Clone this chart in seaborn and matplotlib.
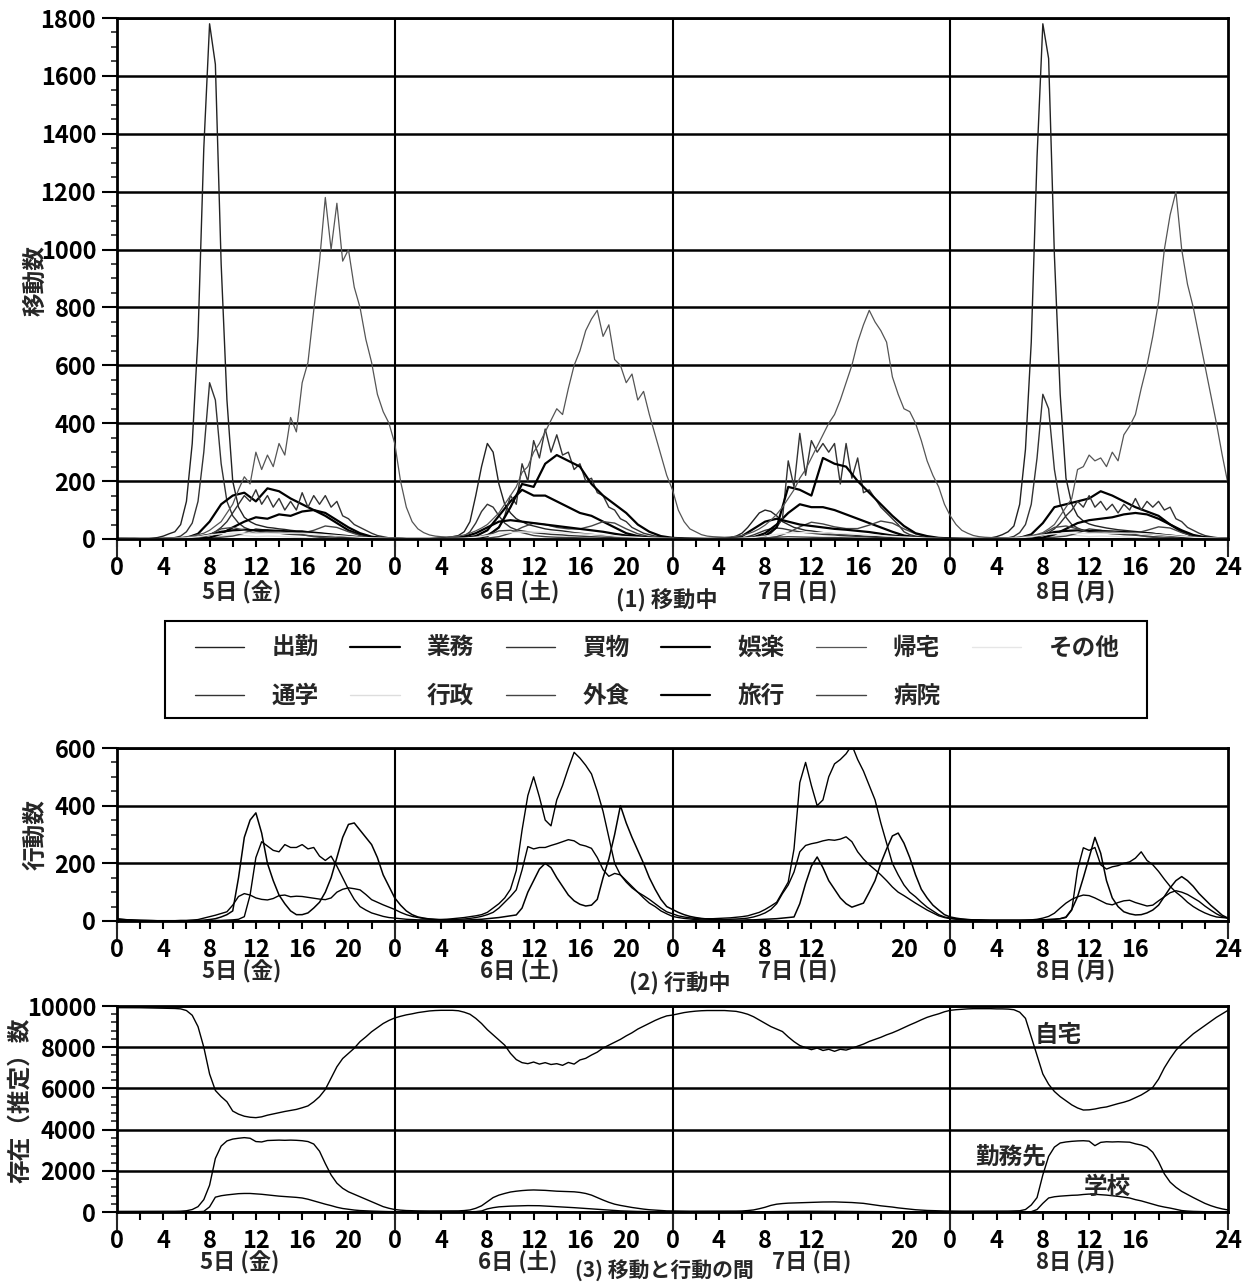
import matplotlib
matplotlib.use("Agg")
import matplotlib.pyplot as plt
import matplotlib.transforms as mtransforms
from matplotlib.patches import Rectangle
from matplotlib.ticker import FixedLocator, MultipleLocator
import numpy as np
import seaborn as sns

sns.set_style("ticks")
plt.rcParams["font.family"] = ["Noto Sans CJK JP", "DejaVu Sans"]
plt.rcParams["font.weight"] = "bold"

# time axis: 4 days (5th Fri .. 8th Mon), hours since 0:00 of the 5th
HALF_HOURS = np.arange(0, 96.5, 0.5)
HOURS = np.arange(0, 97, 1)
DAY_NAMES = ["5日 (金)", "6日 (土)", "7日 (日)", "8日 (月)"]

# ---------------------------------------------------------------------------
# (1) 移動中 -- trips in progress, per purpose
# ---------------------------------------------------------------------------
SHUKKIN = [  # 出勤, half-hourly
    0, 0, 0, 0, 0, 0, 2, 5, 10, 18, 25, 50,
    130, 330, 700, 1350, 1780, 1640, 950, 480, 200, 110, 75, 60,
    50, 45, 40, 38, 35, 33, 30, 28, 28, 25, 22, 20,
    18, 15, 12, 10, 8, 6, 5, 4, 3, 2, 2, 1,
    1, 1, 0, 0, 0, 0, 1, 2, 3, 5, 8, 12,
    25, 60, 150, 250, 330, 300, 190, 120, 90, 70, 60, 50,
    45, 40, 35, 32, 30, 28, 25, 22, 20, 18, 16, 14,
    12, 10, 8, 7, 6, 5, 4, 3, 2, 2, 1, 1,
    1, 0, 0, 0, 0, 0, 0, 1, 2, 3, 5, 10,
    20, 40, 65, 90, 100, 95, 80, 60, 50, 40, 35, 30,
    28, 25, 22, 20, 18, 16, 15, 14, 12, 10, 9, 8,
    7, 6, 5, 4, 3, 3, 2, 2, 1, 1, 1, 0,
    0, 0, 0, 0, 0, 0, 2, 4, 8, 15, 25, 45,
    120, 310, 680, 1320, 1780, 1660, 980, 500, 210, 120, 80, 62,
    52, 46, 42, 38, 35, 32, 30, 28, 26, 24, 22, 20,
    17, 14, 12, 10, 8, 6, 5, 4, 3, 2, 2, 1,
    1,
]
TSUGAKU = [  # 通学, half-hourly
    0, 0, 0, 0, 0, 0, 0, 0, 1, 2, 5, 10,
    25, 55, 130, 300, 540, 480, 260, 130, 80, 55, 40, 32,
    28, 26, 24, 22, 20, 18, 16, 15, 14, 12, 10, 9,
    8, 7, 6, 5, 4, 3, 2, 2, 1, 1, 0, 0,
    0, 0, 0, 0, 0, 0, 0, 0, 0, 1, 2, 4,
    10, 25, 55, 95, 120, 110, 80, 55, 40, 32, 28, 25,
    22, 20, 18, 16, 15, 14, 12, 11, 10, 9, 8, 7,
    6, 5, 4, 3, 2, 2, 1, 1, 1, 0, 0, 0,
    0, 0, 0, 0, 0, 0, 0, 0, 0, 0, 1, 2,
    4, 8, 14, 22, 30, 35, 38, 36, 32, 28, 25, 22,
    20, 18, 16, 15, 14, 12, 11, 10, 9, 8, 7, 6,
    5, 4, 3, 3, 2, 2, 1, 1, 1, 0, 0, 0,
    0, 0, 0, 0, 0, 0, 0, 0, 1, 2, 4, 9,
    22, 50, 120, 280, 500, 450, 240, 120, 75, 50, 38, 30,
    26, 24, 22, 20, 18, 17, 15, 14, 13, 11, 10, 8,
    7, 6, 5, 4, 3, 3, 2, 1, 1, 1, 0, 0,
    0,
]
KITAKU = [  # 帰宅, half-hourly
    5, 4, 3, 3, 2, 2, 2, 2, 3, 3, 4, 5,
    8, 10, 15, 20, 30, 45, 60, 90, 120, 170, 215, 190,
    300, 240, 290, 250, 330, 290, 420, 370, 540, 610, 790, 960,
    1180, 1000, 1160, 960, 1000, 870, 800, 690, 610, 500, 440, 400,
    330, 200, 110, 60, 35, 22, 14, 10, 8, 7, 8, 10,
    14, 20, 28, 38, 50, 70, 90, 120, 150, 180, 230, 250,
    300, 330, 370, 410, 450, 430, 520, 600, 650, 720, 760, 790,
    700, 740, 620, 600, 540, 570, 480, 510, 430, 360, 290, 220,
    170, 100, 60, 35, 25, 15, 10, 8, 7, 6, 7, 9,
    12, 18, 25, 35, 48, 65, 85, 110, 140, 170, 210, 240,
    280, 320, 360, 400, 430, 480, 540, 600, 680, 740, 790, 750,
    720, 680, 560, 500, 450, 440, 400, 340, 270, 220, 180, 120,
    80, 50, 30, 20, 12, 8, 6, 5, 4, 4, 4, 5,
    7, 9, 12, 16, 22, 35, 50, 80, 110, 140, 240, 250,
    290, 270, 280, 250, 300, 270, 360, 390, 430, 520, 600, 700,
    820, 1000, 1120, 1200, 1000, 880, 800, 700, 600, 500, 400, 290,
    190,
]
KAIMONO = [  # 買物, half-hourly
    2, 1, 1, 1, 0, 0, 0, 0, 0, 0, 1, 1,
    2, 3, 5, 8, 15, 25, 40, 60, 90, 120, 150, 130,
    170, 120, 150, 110, 140, 100, 130, 100, 160, 110, 150, 120,
    150, 110, 130, 80, 70, 50, 40, 30, 20, 12, 8, 4,
    3, 2, 1, 1, 0, 0, 0, 0, 0, 0, 1, 1,
    2, 4, 6, 10, 15, 25, 40, 80, 150, 120, 260, 200,
    340, 280, 380, 300, 360, 290, 300, 240, 260, 200, 210, 160,
    150, 110, 100, 70, 60, 40, 30, 20, 15, 10, 8, 5,
    3, 2, 1, 1, 0, 0, 0, 0, 0, 0, 1, 1,
    2, 3, 5, 8, 12, 20, 40, 70, 270, 180, 365, 220,
    340, 300, 330, 300, 330, 190, 330, 210, 280, 160, 170, 140,
    110, 90, 70, 50, 25, 15, 10, 8, 5, 4, 3, 2,
    1, 1, 0, 0, 0, 0, 0, 0, 0, 0, 1, 1,
    2, 3, 5, 8, 14, 22, 35, 55, 80, 100, 130, 110,
    150, 110, 130, 100, 120, 90, 120, 100, 140, 100, 130, 110,
    130, 100, 110, 70, 60, 40, 30, 20, 12, 8, 5, 3,
    2,
]
GYOMU = [  # 業務, hourly
    0, 0, 0, 0, 0, 1, 4, 18, 60, 120, 150, 160,
    130, 175, 165, 140, 120, 100, 80, 55, 30, 15, 6, 3,
    1, 0, 0, 0, 0, 1, 3, 10, 30, 80, 130, 170,
    150, 150, 130, 110, 90, 80, 60, 40, 20, 10, 5, 2,
    1, 0, 0, 0, 0, 0, 2, 6, 20, 50, 90, 120,
    110, 110, 100, 85, 70, 55, 40, 25, 12, 6, 3, 1,
    0, 0, 0, 0, 0, 1, 4, 16, 55, 110, 120, 130,
    140, 165, 150, 130, 110, 95, 80, 50, 25, 10, 5, 2,
    1,
]
GORAKU = [  # 娯楽, hourly
    0, 0, 0, 0, 0, 0, 1, 2, 5, 18, 40, 60,
    75, 70, 85, 80, 95, 100, 90, 65, 40, 20, 8, 3,
    1, 0, 0, 0, 0, 0, 1, 3, 10, 40, 110, 190,
    180, 260, 290, 270, 250, 190, 150, 120, 90, 50, 25, 10,
    4, 2, 1, 0, 0, 0, 1, 3, 10, 40, 180, 170,
    150, 280, 260, 250, 200, 160, 120, 80, 45, 20, 10, 4,
    2, 1, 0, 0, 0, 0, 1, 2, 5, 16, 35, 55,
    65, 70, 75, 85, 90, 85, 70, 50, 30, 14, 6, 2,
    1,
]
GAISHOKU = [  # 外食, hourly
    0, 0, 0, 0, 0, 0, 0, 1, 3, 6, 10, 20,
    35, 30, 20, 18, 20, 30, 45, 40, 25, 12, 5, 2,
    1, 0, 0, 0, 0, 0, 0, 1, 3, 8, 20, 40,
    55, 50, 40, 35, 35, 45, 60, 55, 35, 18, 8, 3,
    1, 0, 0, 0, 0, 0, 0, 1, 3, 8, 22, 42,
    58, 52, 42, 36, 36, 48, 62, 55, 35, 18, 8, 3,
    1, 0, 0, 0, 0, 0, 0, 1, 3, 6, 10, 20,
    35, 30, 20, 18, 20, 30, 42, 38, 22, 10, 4, 2,
    1,
]
RYOKO = [  # 旅行, hourly
    0, 0, 0, 0, 0, 1, 3, 8, 15, 25, 30, 32,
    30, 30, 28, 26, 24, 22, 18, 14, 10, 6, 3, 1,
    0, 0, 0, 0, 1, 3, 8, 20, 40, 60, 65, 60,
    55, 50, 45, 40, 35, 30, 25, 18, 12, 8, 4, 2,
    1, 0, 0, 0, 1, 3, 10, 35, 60, 70, 60, 50,
    45, 40, 35, 32, 28, 24, 18, 12, 8, 5, 3, 1,
    0, 0, 0, 0, 0, 1, 3, 8, 15, 24, 28, 30,
    28, 28, 26, 24, 22, 20, 16, 12, 8, 5, 2, 1,
    0,
]
BYOIN = [  # 病院, hourly
    0, 0, 0, 0, 0, 0, 1, 4, 15, 35, 40, 30,
    20, 25, 25, 20, 15, 8, 4, 2, 1, 0, 0, 0,
    0, 0, 0, 0, 0, 0, 1, 3, 12, 28, 30, 22,
    12, 8, 6, 5, 4, 3, 2, 1, 0, 0, 0, 0,
    0, 0, 0, 0, 0, 0, 0, 1, 3, 6, 8, 7,
    6, 5, 5, 4, 3, 2, 1, 1, 0, 0, 0, 0,
    0, 0, 0, 0, 0, 0, 1, 5, 18, 40, 45, 35,
    22, 26, 26, 20, 15, 8, 4, 2, 1, 0, 0, 0,
    0,
]
GYOSEI = [  # 行政, hourly
    0, 0, 0, 0, 0, 0, 0, 1, 4, 10, 14, 12,
    8, 10, 9, 7, 4, 2, 1, 0, 0, 0, 0, 0,
    0, 0, 0, 0, 0, 0, 0, 0, 1, 2, 3, 3,
    2, 2, 2, 1, 1, 0, 0, 0, 0, 0, 0, 0,
    0, 0, 0, 0, 0, 0, 0, 0, 0, 1, 1, 1,
    1, 1, 1, 1, 0, 0, 0, 0, 0, 0, 0, 0,
    0, 0, 0, 0, 0, 0, 0, 1, 4, 11, 15, 12,
    8, 10, 9, 7, 4, 2, 1, 0, 0, 0, 0, 0,
    0,
]
SONOTA = [  # その他, hourly
    2, 1, 1, 1, 1, 2, 4, 8, 14, 18, 20, 20,
    20, 20, 20, 20, 20, 18, 15, 12, 9, 6, 4, 3,
    2, 1, 1, 1, 1, 2, 3, 6, 12, 18, 22, 24,
    24, 24, 22, 20, 18, 16, 14, 10, 8, 6, 4, 3,
    2, 1, 1, 1, 1, 1, 3, 5, 10, 16, 20, 22,
    22, 22, 20, 18, 16, 14, 12, 9, 7, 5, 3, 2,
    1, 1, 1, 1, 1, 2, 4, 8, 14, 18, 20, 20,
    20, 20, 20, 20, 20, 18, 15, 12, 9, 6, 4, 3,
    2,
]

# ---------------------------------------------------------------------------
# (2) 行動中 -- activities in progress (three series), half-hourly
# ---------------------------------------------------------------------------
ACT_MEAL = [
    5, 4, 3, 2, 2, 1, 1, 1, 1, 1, 1, 1,
    1, 2, 2, 3, 5, 8, 14, 22, 35, 150, 290, 350,
    375, 305, 200, 140, 90, 60, 35, 22, 22, 28, 45, 65,
    100, 150, 220, 290, 335, 340, 315, 290, 265, 220, 160, 120,
    80, 55, 35, 22, 14, 10, 7, 5, 4, 3, 3, 3,
    3, 4, 5, 6, 8, 10, 12, 15, 18, 21, 45, 100,
    140, 180, 200, 185, 150, 120, 90, 70, 58, 52, 55, 75,
    150, 215, 300, 400, 340, 290, 245, 200, 150, 110, 75, 50,
    40, 30, 22, 16, 12, 9, 7, 5, 4, 3, 3, 3,
    3, 4, 4, 5, 6, 7, 8, 10, 12, 14, 60, 130,
    190, 222, 185, 140, 110, 80, 60, 48, 55, 62, 100, 140,
    200, 250, 295, 305, 270, 220, 160, 110, 80, 55, 38, 22,
    14, 10, 7, 5, 4, 3, 3, 2, 2, 2, 2, 2,
    2, 2, 3, 3, 4, 5, 6, 8, 14, 40, 84, 150,
    220, 290, 235, 140, 80, 50, 32, 25, 21, 22, 28, 38,
    55, 85, 115, 140, 154, 140, 120, 95, 75, 55, 38, 20,
    10,
]
ACT_MAIN = [
    8, 6, 4, 3, 2, 2, 1, 1, 1, 1, 1, 1,
    1, 1, 1, 1, 1, 2, 2, 3, 4, 6, 15, 90,
    220, 275, 260, 245, 240, 265, 255, 255, 265, 250, 255, 225,
    210, 225, 190, 150, 110, 75, 50, 38, 28, 22, 16, 12,
    10, 8, 6, 5, 4, 4, 4, 4, 5, 6, 8, 10,
    12, 15, 18, 22, 30, 45, 60, 80, 110, 175, 315, 435,
    500, 430, 350, 330, 420, 470, 530, 585, 565, 540, 510, 450,
    380, 290, 200, 160, 135, 115, 100, 88, 75, 60, 45, 32,
    25, 18, 14, 11, 9, 8, 8, 8, 9, 10, 11, 13,
    15, 18, 24, 30, 40, 52, 65, 100, 135, 250, 480, 550,
    470, 400, 420, 500, 545, 560, 580, 610, 560, 520, 470, 420,
    340, 270, 200, 160, 125, 100, 84, 65, 48, 35, 22, 14,
    10, 8, 6, 5, 4, 4, 3, 3, 3, 3, 3, 3,
    3, 3, 3, 4, 4, 5, 6, 8, 12, 38, 178, 254,
    245, 255, 195, 180, 188, 192, 200, 205, 218, 240, 210, 195,
    172, 145, 120, 100, 84, 65, 50, 38, 28, 20, 14, 12,
    10,
]
ACT_OTHER = [
    6, 5, 4, 3, 2, 2, 2, 1, 1, 1, 1, 2,
    2, 3, 5, 10, 15, 20, 26, 32, 55, 85, 95, 90,
    80, 75, 73, 78, 88, 90, 84, 86, 85, 82, 79, 76,
    74, 80, 100, 110, 115, 112, 108, 92, 74, 65, 56, 48,
    40, 30, 22, 16, 12, 9, 7, 6, 5, 5, 5, 6,
    7, 9, 12, 16, 22, 30, 45, 65, 85, 108, 177, 258,
    250, 255, 255, 262, 268, 275, 282, 278, 265, 260, 252, 220,
    178, 155, 165, 160, 140, 120, 100, 80, 62, 50, 35, 25,
    16, 12, 9, 7, 5, 4, 4, 4, 4, 5, 6, 7,
    8, 10, 14, 20, 28, 40, 60, 95, 125, 170, 240, 262,
    268, 272, 278, 282, 280, 284, 292, 275, 240, 215, 195, 178,
    160, 140, 118, 100, 88, 75, 62, 50, 38, 28, 18, 12,
    8, 6, 5, 4, 3, 3, 2, 2, 2, 2, 2, 2,
    2, 3, 4, 6, 10, 16, 27, 45, 62, 75, 84, 90,
    88, 80, 70, 60, 56, 64, 70, 72, 64, 58, 52, 55,
    70, 84, 98, 105, 100, 92, 80, 68, 52, 38, 25, 15,
    10,
]

# ---------------------------------------------------------------------------
# (3) 移動と行動の間 -- estimated presence, half-hourly
# ---------------------------------------------------------------------------
HOME = [
    9920, 9920, 9920, 9915, 9915, 9910, 9910, 9905, 9900, 9890, 9880, 9860,
    9780, 9550, 9000, 8000, 6700, 5900, 5600, 5350, 4900, 4750, 4650, 4600,
    4580, 4620, 4700, 4760, 4820, 4880, 4930, 4980, 5060, 5150, 5350, 5600,
    5950, 6500, 7050, 7450, 7700, 7950, 8270, 8500, 8750, 8950, 9150, 9300,
    9420, 9500, 9570, 9620, 9680, 9720, 9760, 9780, 9790, 9790, 9790, 9770,
    9700, 9600, 9400, 9150, 8850, 8600, 8350, 8100, 7700, 7400, 7250, 7200,
    7280, 7180, 7250, 7160, 7200, 7120, 7260, 7180, 7380, 7460, 7620, 7760,
    7960, 8100, 8240, 8380, 8550, 8700, 8880, 9020, 9160, 9300, 9420, 9520,
    9560, 9620, 9680, 9720, 9750, 9770, 9780, 9780, 9780, 9780, 9760, 9740,
    9680, 9600, 9480, 9320, 9160, 9000, 8880, 8760, 8500, 8270, 8080, 7980,
    7880, 7960, 7840, 7900, 7800, 7900, 7860, 7950, 8050, 8150, 8280, 8380,
    8480, 8600, 8700, 8820, 8950, 9080, 9200, 9330, 9450, 9540, 9620, 9720,
    9790, 9820, 9840, 9860, 9870, 9870, 9870, 9870, 9860, 9860, 9850, 9820,
    9700, 9400, 8500, 7600, 6700, 6200, 5850, 5600, 5400, 5200, 5050, 4950,
    4960, 5000, 5060, 5100, 5180, 5260, 5330, 5420, 5550, 5680, 5850, 6050,
    6450, 7000, 7450, 7850, 8150, 8400, 8650, 8850, 9050, 9250, 9450, 9620,
    9790,
]
WORKPLACE = [
    30, 30, 30, 30, 30, 30, 30, 30, 30, 30, 35, 40,
    60, 120, 260, 600, 1300, 2600, 3200, 3450, 3540, 3580, 3610, 3580,
    3420, 3400, 3470, 3480, 3490, 3480, 3490, 3480, 3460, 3420, 3300, 2950,
    2350, 1800, 1400, 1150, 980, 860, 740, 620, 500, 380, 260, 180,
    120, 90, 70, 60, 55, 50, 50, 50, 50, 50, 50, 55,
    70, 100, 180, 300, 500, 700, 820, 900, 970, 1010, 1040, 1060,
    1070, 1060, 1050, 1030, 1010, 1000, 990, 980, 950, 900, 820, 700,
    580, 470, 380, 320, 270, 220, 180, 140, 110, 90, 70, 55,
    50, 45, 40, 40, 40, 40, 40, 40, 40, 40, 40, 45,
    50, 70, 100, 160, 230, 320, 380, 410, 430, 440, 450, 460,
    470, 480, 485, 490, 490, 480, 470, 460, 440, 420, 380, 340,
    300, 270, 240, 200, 170, 140, 110, 90, 75, 65, 55, 50,
    45, 40, 40, 40, 40, 40, 40, 40, 40, 40, 45, 50,
    60, 120, 340, 700, 1800, 2700, 3150, 3350, 3400, 3430, 3450, 3460,
    3440, 3220, 3380, 3410, 3400, 3410, 3400, 3390, 3310, 3250, 3150, 2900,
    2440, 1850, 1450, 1200, 1000, 850, 700, 560, 420, 310, 220, 150,
    100,
]
SCHOOL = [
    10, 10, 10, 10, 10, 10, 10, 10, 10, 10, 10, 10,
    10, 10, 15, 30, 250, 720, 790, 830, 860, 890, 900, 900,
    880, 860, 830, 800, 770, 750, 730, 710, 680, 620, 540, 460,
    380, 310, 230, 170, 130, 95, 70, 55, 45, 35, 25, 20,
    15, 12, 10, 10, 10, 10, 10, 10, 10, 10, 10, 10,
    10, 12, 20, 50, 150, 210, 250, 270, 285, 295, 305, 310,
    310, 305, 290, 275, 260, 245, 225, 210, 190, 170, 150, 125,
    105, 85, 70, 55, 45, 35, 28, 22, 18, 15, 12, 10,
    10, 10, 10, 10, 10, 10, 10, 10, 10, 10, 10, 10,
    10, 10, 10, 12, 15, 20, 25, 30, 32, 34, 35, 36,
    36, 36, 35, 34, 32, 30, 28, 26, 24, 22, 20, 18,
    16, 14, 12, 11, 10, 10, 10, 10, 10, 10, 10, 10,
    10, 10, 10, 10, 10, 10, 10, 10, 10, 10, 10, 10,
    10, 10, 15, 120, 420, 680, 740, 770, 790, 810, 820, 850,
    870, 860, 840, 820, 790, 760, 720, 680, 600, 540, 460, 380,
    300, 240, 190, 130, 70, 45, 30, 22, 16, 12, 10, 8,
    8,
]

# (label, hours, values, colour, linewidth) for panel 1, in legend order
TRIP_SERIES = [
    ("出勤", HALF_HOURS, SHUKKIN, "#222222", 1.0),
    ("通学", HALF_HOURS, TSUGAKU, "#333333", 1.0),
    ("業務", HOURS, GYOMU, "black", 1.6),
    ("行政", HOURS, GYOSEI, "#dddddd", 1.0),
    ("買物", HALF_HOURS, KAIMONO, "#333333", 1.0),
    ("外食", HOURS, GAISHOKU, "#444444", 1.0),
    ("娯楽", HOURS, GORAKU, "black", 1.6),
    ("旅行", HOURS, RYOKO, "black", 1.6),
    ("帰宅", HALF_HOURS, KITAKU, "#555555", 0.9),
    ("病院", HOURS, BYOIN, "#444444", 1.0),
    ("その他", HOURS, SONOTA, "#e6e6e6", 1.0),
]

W, H = 1245, 1283
FS = 17


def fx(px):
    return px / W


def fy(py):
    return 1 - py / H


def tick_labels(skip=()):
    labels = []
    for p in range(0, 97, 2):
        h = p % 24
        if p == 96:
            labels.append("24")
        elif h % 4 == 0 and p not in skip:
            labels.append(str(h))
        else:
            labels.append("")
    return labels


def style_axis(ax, ymax, ymajor, yminor, skip=()):
    ax.set_xlim(0, 96)
    ax.set_ylim(0, ymax)
    ax.set_xlabel("")
    ax.set_ylabel("")
    ax.xaxis.set_major_locator(FixedLocator(list(range(0, 97, 2))))
    ax.set_xticklabels(tick_labels(skip))
    ax.xaxis.set_minor_locator(FixedLocator([0, 24, 48, 72, 96]))
    ax.xaxis.remove_overlapping_locs = False
    ax.tick_params(axis="x", which="major", length=6, width=1.5, pad=6,
                   labelsize=FS, colors="black")
    ax.tick_params(axis="x", which="minor", length=13, width=1.5)
    ax.yaxis.set_major_locator(MultipleLocator(ymajor))
    ax.yaxis.set_minor_locator(MultipleLocator(yminor))
    ax.tick_params(axis="y", which="major", length=11, width=1.5, pad=4,
                   labelsize=FS, colors="black")
    ax.tick_params(axis="y", which="minor", length=4, width=1.2)
    ax.grid(axis="y", which="major", color="black", linewidth=1.8)
    for d in (24, 48, 72):
        ax.axvline(d, color="black", linewidth=1.5, zorder=1.5)
    for s in ax.spines.values():
        s.set_visible(True)
        s.set_linewidth(2)
        s.set_color("black")


def day_labels(fig, ax, y_px, caption, cap_x_px, cap_y_px,
               offsets=(10.8, 10.8, 10.8, 10.8), cap_size=FS - 1):
    trans = mtransforms.blended_transform_factory(ax.transData, fig.transFigure)
    for i, (name, off) in enumerate(zip(DAY_NAMES, offsets)):
        ax.text(i * 24 + off, fy(y_px), name, transform=trans, ha="center",
                va="center", fontsize=FS - 1)
    fig.text(fx(cap_x_px), fy(cap_y_px), caption, ha="center", va="center",
             fontsize=cap_size)


fig = plt.figure(figsize=(W / 100, H / 100), dpi=100)
ax1 = fig.add_axes([fx(117), fy(539), fx(1228) - fx(117), fy(18) - fy(539)])
ax2 = fig.add_axes([fx(117), fy(921), fx(1228) - fx(117), fy(748) - fy(921)])
ax3 = fig.add_axes([fx(117), fy(1212), fx(1228) - fx(117), fy(1006) - fy(1212)])

# panel 1
for label, hours, values, color, lw in TRIP_SERIES:
    sns.lineplot(x=hours, y=values, ax=ax1, color=color, linewidth=lw, label=label)
ax1.get_legend().remove()
style_axis(ax1, 1800, 200, 50)
day_labels(fig, ax1, 593, "(1) 移動中", 667, 601)
fig.text(fx(35), fy(281), "移動数", rotation=90, ha="center", va="center", fontsize=FS)

# legend box with its own frame
fig.add_artist(Rectangle((fx(165), fy(718)), fx(1147) - fx(165), fy(621) - fy(718),
                         transform=fig.transFigure, fill=False, edgecolor="black",
                         linewidth=1.5))
handles, labels = ax1.get_legend_handles_labels()
fig.legend(handles, labels, ncol=6, loc="center",
           bbox_to_anchor=(fx(657), fy(672)), fontsize=FS, frameon=False,
           handlelength=2.1, handletextpad=1.15, columnspacing=1.33,
           labelspacing=1.0, borderpad=0, borderaxespad=0)

# panel 2
for values, lw in ((ACT_MEAL, 1.1), (ACT_MAIN, 1.0), (ACT_OTHER, 1.0)):
    sns.lineplot(x=HALF_HOURS, y=values, ax=ax2, color="black", linewidth=lw)
style_axis(ax2, 600, 200, 50, skip=(64, 92))
day_labels(fig, ax2, 972, "(2) 行動中", 680, 984)
fig.text(fx(35), fy(835), "行動数", rotation=90, ha="center", va="center", fontsize=FS)

# panel 3
for values in (HOME, WORKPLACE, SCHOOL):
    sns.lineplot(x=HALF_HOURS, y=values, ax=ax3, color="black", linewidth=1.0)
style_axis(ax3, 10000, 2000, 400, skip=(64, 92))
day_labels(fig, ax3, 1263, "(3) 移動と行動の間", 664, 1271,
           offsets=(10.6, 10.6, 12.0, 10.8), cap_size=FS - 2)
fig.text(fx(20), fy(1100), "存在（推定）数", rotation=90, ha="center", va="center",
         fontsize=FS)
ax3.text(81.3, 8580, "自宅", ha="center", va="center", fontsize=FS)
ax3.text(77.2, 2670, "勤務先", ha="center", va="center", fontsize=FS)
ax3.text(85.6, 1210, "学校", ha="center", va="center", fontsize=FS)

fig.savefig("out.png", dpi=100)
